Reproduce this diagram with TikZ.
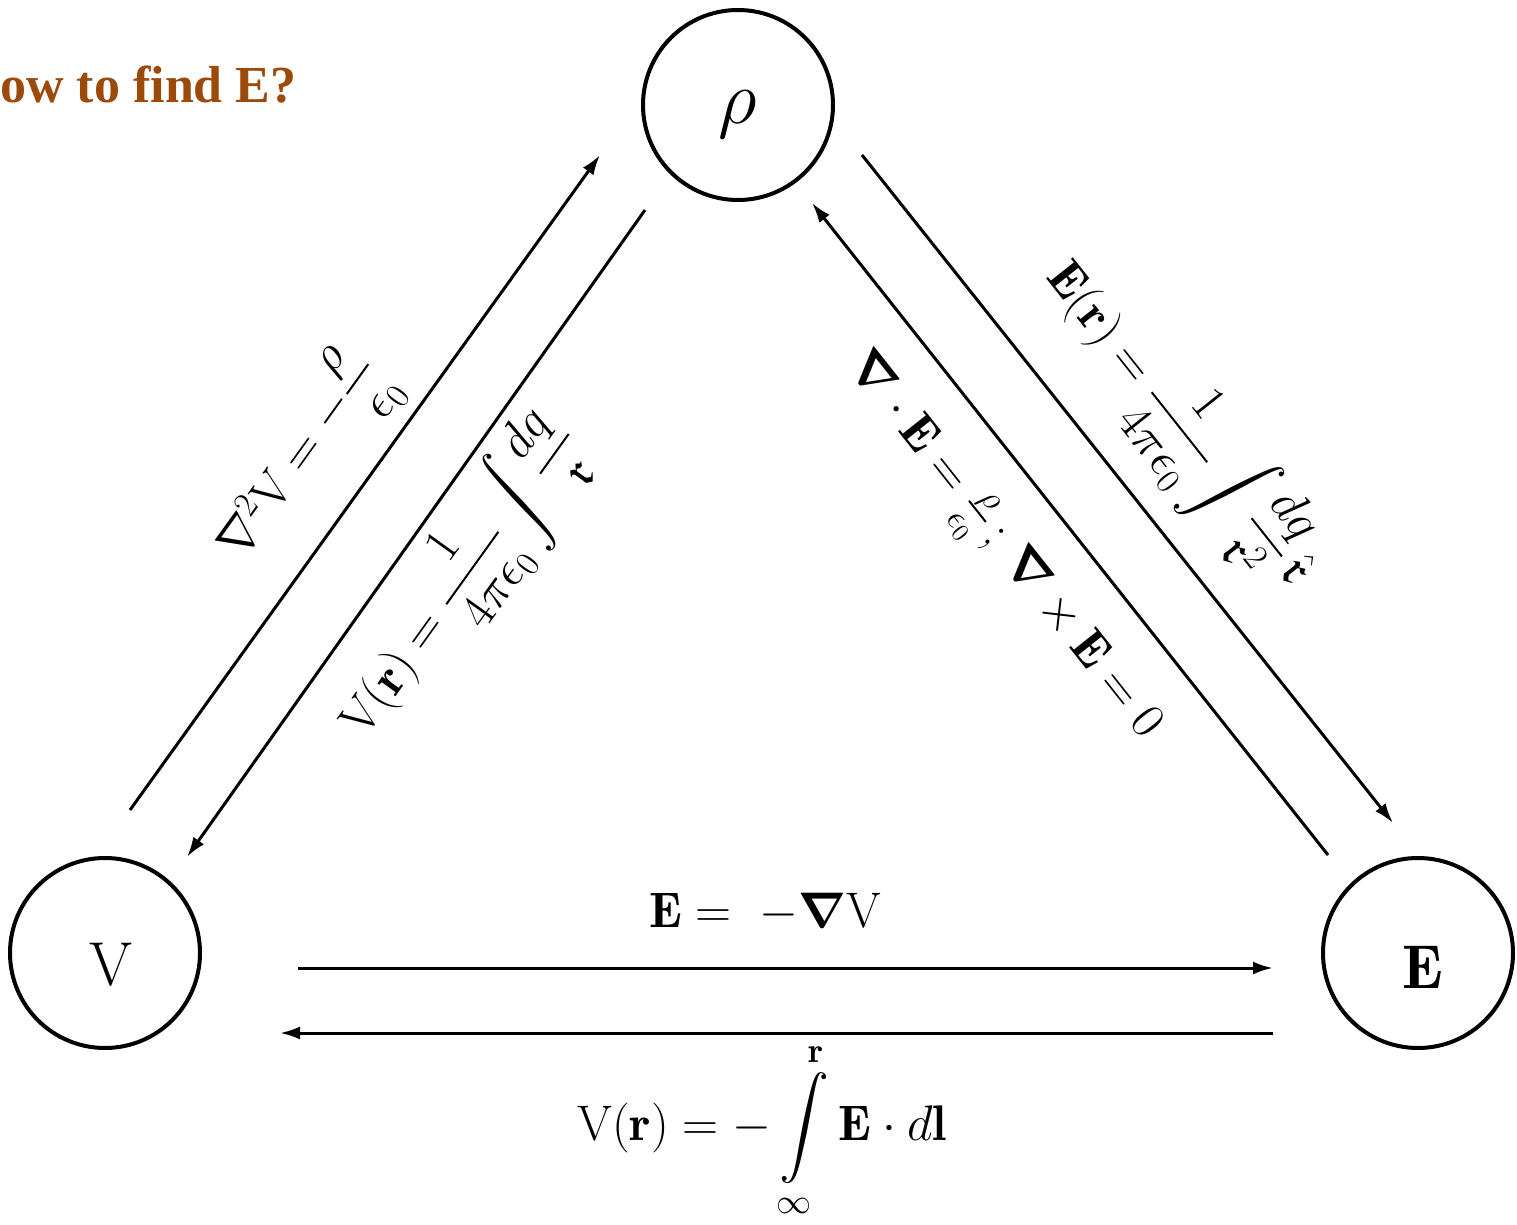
\documentclass[tikz,border=0pt]{standalone}
\usepackage{fix-cm}
\usepackage{amsmath,amssymb,bm}
\usepackage{fontspec}
\newfontfamily\titlefont{Liberation Serif}
\usetikzlibrary{arrows.meta}
\definecolor{titlebrown}{RGB}{156,74,9}
\newcommand{\sr}{\mathfrak{r}}
\begin{document}
\begin{tikzpicture}[x=0.5pt,y=-0.5pt,
  state/.style={circle,draw,line width=2pt,minimum size=95pt,inner sep=0pt,text depth=0pt,font=\fontsize{31}{34}\selectfont},
  conn/.style={line width=1.5pt,-{Latex[length=10pt,width=6.5pt]}},
  lbl/.style={font=\fontsize{25}{28}\selectfont,inner sep=0pt},
  title/.style={font=\titlefont\bfseries\fontsize{26}{30}\selectfont,text=titlebrown,inner sep=0pt}]
\useasboundingbox (0,0) rectangle (1517,1225);
\node[title,anchor=base west] (ttl) at (0,103) {ow to find E?};
\node[state,text height=19pt,font=\fontsize{38}{40}\selectfont] (rho) at (738,105) {$\rho$};
\node[state,text height=32pt] (V) at (105,953) {\hspace{6pt}$\mathrm{V}$};
\node[state,text height=35pt] (E) at (1418,953) {\hspace{5pt}$\mathbf{E}$};
% connector end points
\coordinate (vr1) at (130,810);  \coordinate (vr2) at (600,155);
\coordinate (rv1) at (645,210);  \coordinate (rv2) at (187,857);
\coordinate (re1) at (862,155);  \coordinate (re2) at (1393,823);
\coordinate (er1) at (1328,855); \coordinate (er2) at (812,203);
\coordinate (ve1) at (298,968);  \coordinate (ve2) at (1273,968);
\coordinate (ev1) at (1273,1033); \coordinate (ev2) at (280,1033);
\draw[conn] (vr1) -- (vr2);
\draw[conn] (rv1) -- (rv2);
\draw[conn] (re1) -- (re2);
\draw[conn] (er1) -- (er2);
\draw[conn] (ve1) -- (ve2);
\draw[conn] (ev1) -- (ev2);
% labels
\node[lbl,rotate=54.3] (l1) at (305,462) {$\nabla^2\mathrm{V} = -\dfrac{\rho}{\epsilon_0}$};
\node[lbl,rotate=54.3] (l2) at (462,582) {$\mathrm{V}(\mathbf{r}) = \dfrac{1}{4\pi\epsilon_0}\displaystyle\int\frac{dq}{\sr}$};
\node[lbl,rotate=-51.6] (l3) at (1178,425) {$\mathbf{E}(\mathbf{r}) = \dfrac{1}{4\pi\epsilon_0}\displaystyle\int\frac{dq}{\sr^2}\,\hat{\sr}$};
\node[lbl,rotate=-51.6] (l4) at (1000,548) {$\bm{\nabla}\cdot\mathbf{E} = \frac{\rho}{\epsilon_0}\,;\,\bm{\nabla}\times\mathbf{E} = 0$};
\node[lbl] (l5) at (765,912) {$\mathbf{E} = \;-\bm{\nabla}\mathrm{V}$};
\node[lbl] (l6) at (762,1130) {$\mathrm{V}(\mathbf{r}) = -\displaystyle\int\limits_{\infty}^{\mathbf{r}}\mathbf{E}\cdot d\mathbf{l}$};
\end{tikzpicture}
\end{document}
